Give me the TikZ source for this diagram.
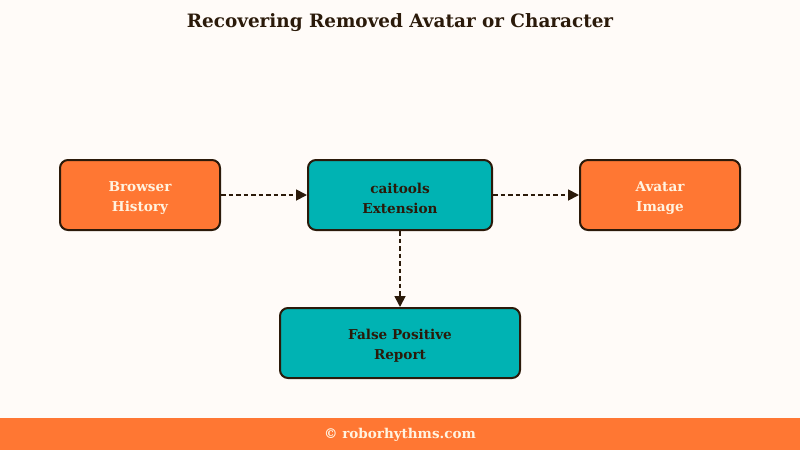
\documentclass[tikz,border=0pt]{standalone}
\usepackage{fontspec}
\setmainfont{DejaVu Serif}
\usetikzlibrary{arrows.meta}
\definecolor{bgc}{HTML}{FFFBF8}
\definecolor{orng}{HTML}{FF7733}
\definecolor{teal2}{HTML}{00B3B3}
\definecolor{brn}{HTML}{2B1A0A}
\definecolor{cream}{HTML}{FFF3E0}
\tikzset{
  box/.style={draw=brn, line width=2pt, rounded corners=8pt, inner sep=0pt},
  obox/.style={box, fill=orng},
  tbox/.style={box, fill=teal2},
  txt/.style={align=center, font=\bfseries\fontsize{13.6}{20}\selectfont, inner sep=0pt},
  otxt/.style={txt, text=cream},
  ttxt/.style={txt, text=brn},
  conn/.style={draw=brn, line width=1.8pt, dash pattern=on 4.5pt off 3pt, -{Triangle[length=11pt,width=11pt]}}
}
\begin{document}
\begin{tikzpicture}[x=1pt,y=-1pt]
\fill[bgc] (0,0) rectangle (800,450);
\useasboundingbox (0,0) rectangle (800,450);
\fill[orng] (0,418) rectangle (800,450);
\node[font=\bfseries\fontsize{18.4}{22}\selectfont, text=brn] (title) at (400,22.5) {Recovering Removed Avatar or Character};
\node[font=\bfseries\fontsize{13.5}{16}\selectfont, text=cream] (foot) at (400,435) {© roborhythms.com};
\node[obox, minimum width=160pt, minimum height=70pt] (bh) at (140,195) {};
\node[tbox, minimum width=184pt, minimum height=70pt] (ce) at (400,195) {};
\node[obox, minimum width=160pt, minimum height=70pt] (ai) at (660,195) {};
\node[tbox, minimum width=240pt, minimum height=70pt] (fp) at (400,343) {};
\node[otxt] (bht) at ([yshift=-3pt]bh.center) {Browser\\History};
\node[ttxt] (cet) at ([yshift=-3pt]ce.center) {caitools\\Extension};
\node[otxt] (ait) at ([yshift=-3pt]ai.center) {Avatar\\Image};
\node[ttxt] (fpt) at ([yshift=-3pt]fp.center) {False Positive\\Report};
\draw[conn] (bh) -- (ce);
\draw[conn] (ce) -- (ai);
\draw[conn] (ce) -- (fp);
\end{tikzpicture}
\end{document}
